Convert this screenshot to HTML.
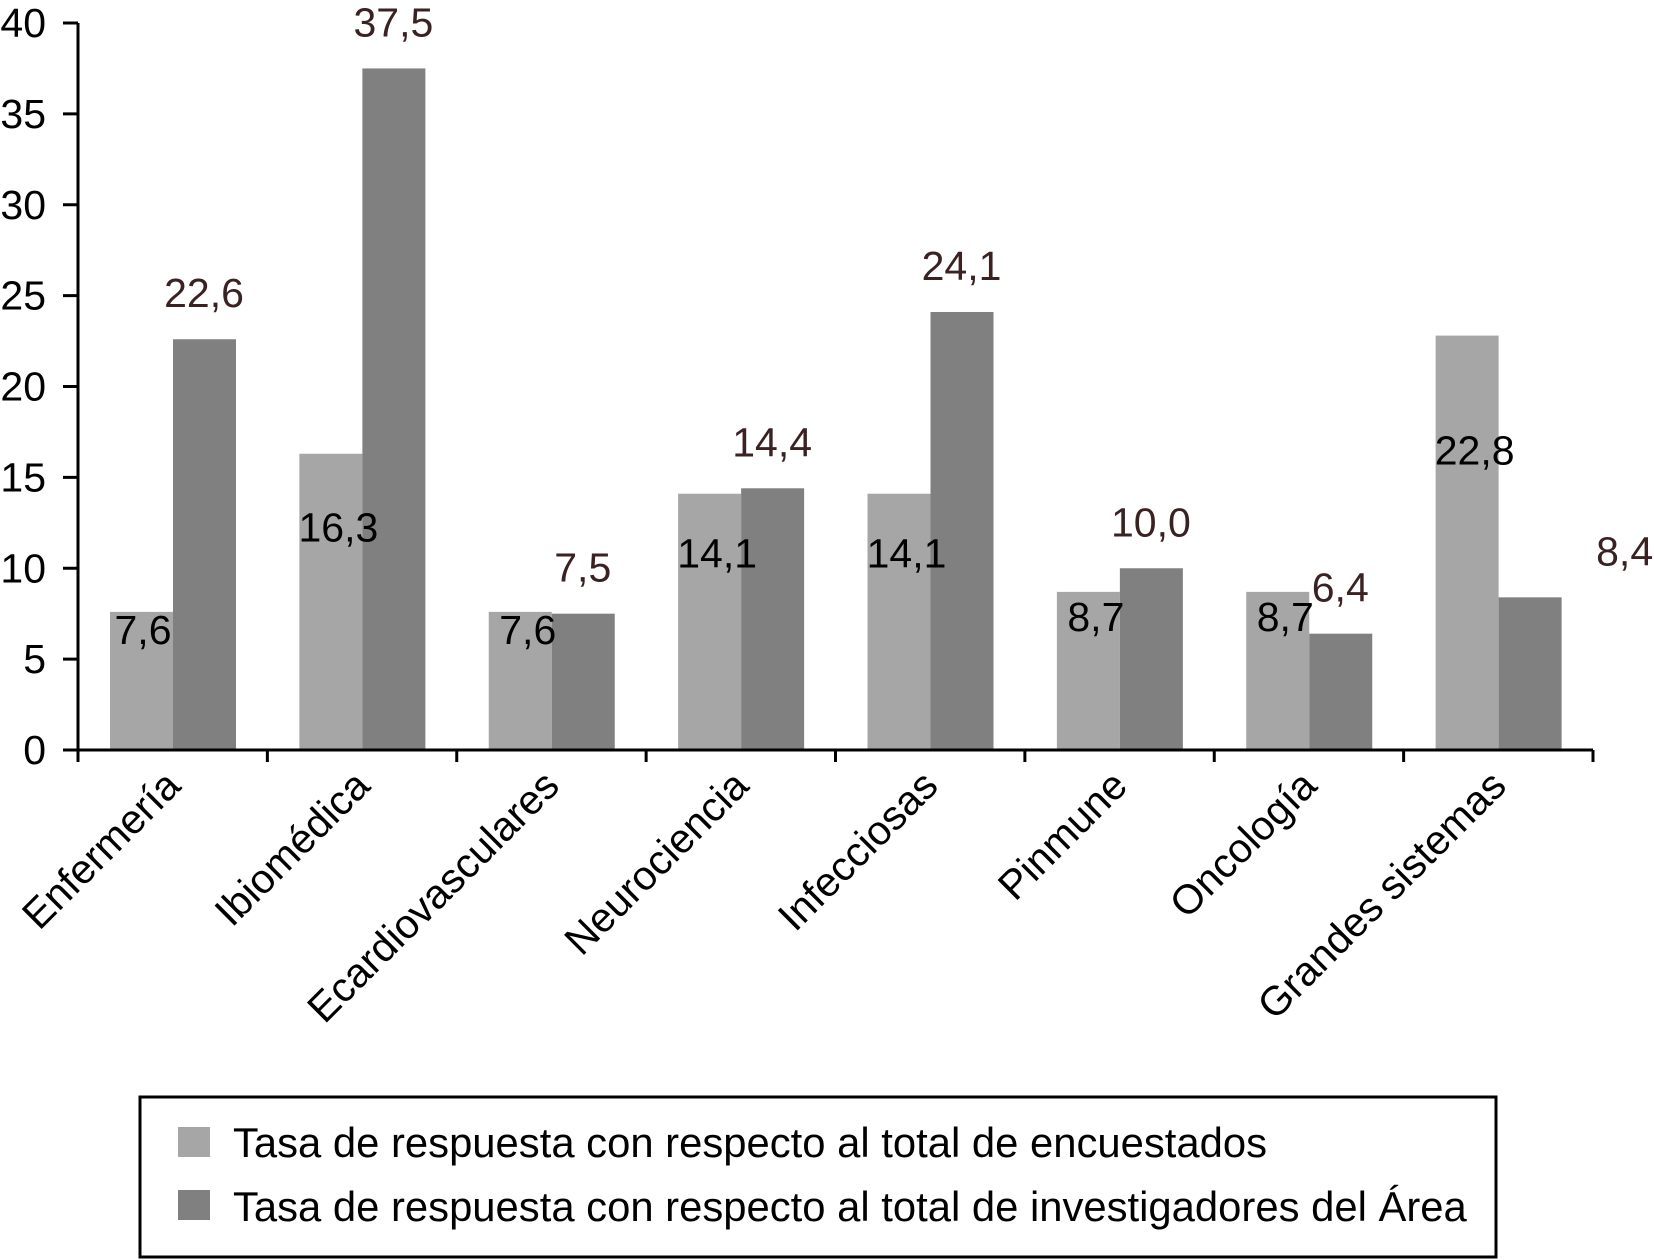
<!DOCTYPE html>
<html><head><meta charset="utf-8"><style>
html,body{margin:0;padding:0;background:#fff;}
svg{display:block;font-family:"Liberation Sans",Arial,sans-serif;}
</style></head><body>
<svg id="chart" width="1654" height="1260" viewBox="0 0 1654 1260" xmlns="http://www.w3.org/2000/svg">
<g id="plot"></g>
<g>
<rect x="140" y="1097" width="1356" height="160" fill="#fff" stroke="#000" stroke-width="3"/>
<rect x="178" y="1127" width="32" height="30" fill="#a6a6a6"/>
<text x="233" y="1157" font-size="41.8">Tasa de respuesta con respecto al total de encuestados</text>
<rect x="178" y="1190" width="32" height="30" fill="#808080"/>
<text x="233" y="1221" font-size="41.8">Tasa de respuesta con respecto al total de investigadores del Área</text>
</g>
</svg>
<script>
const categories = ["Enfermería","Ibiomédica","Ecardiovasculares","Neurociencia","Infecciosas","Pinmune","Oncología","Grandes sistemas"];
const encuestados = [7.6,16.3,7.6,14.1,14.1,8.7,8.7,22.8];
const investigadores = [22.6,37.5,7.5,14.4,24.1,10.0,6.4,8.4];
const yTicks = [0,5,10,15,20,25,30,35,40];

const NS="http://www.w3.org/2000/svg";
const g=document.getElementById('plot');
const X0=78, X1=1593, Y0=750, YT=23, YMAX=40;
const cw=(X1-X0)/categories.length;
const y=v=>Y0-(v/YMAX)*(Y0-YT);
const xc=i=>X0+i*cw;
function mk(t,a){const e=document.createElementNS(NS,t);for(const k in a)e.setAttribute(k,a[k]);g.appendChild(e);return e;}
const fmt=v=>v.toFixed(1).replace('.',',');
const FS=41;

categories.forEach((c,i)=>{
  const x=xc(i);
  const b1=mk('rect',{x:x+32,y:y(encuestados[i]),width:63,height:Y0-y(encuestados[i]),fill:'#a6a6a6'});
  
  
  const b2=mk('rect',{x:x+95,y:y(investigadores[i]),width:63,height:Y0-y(investigadores[i]),fill:'#808080'});
  
  
  const l1=mk('text',{x:x+63+(i===0?2:8),y:y(encuestados[i])+Math.max(45,(Y0-y(encuestados[i]))*0.35)-16,'font-size':FS,'text-anchor':'middle',fill:'#000'});
  l1.textContent=fmt(encuestados[i]);
  
  
  const dx=(i===categories.length-1)?95:0;
  const l2=mk('text',{x:x+126+dx,y:y(investigadores[i])-32,'font-size':FS,'text-anchor':'middle',fill:'#3b2222'});
  l2.textContent=fmt(investigadores[i]);
  
  
  const cx=x+cw/2+10, cy=Y0+38;
  const cl=mk('text',{x:cx,y:cy,'font-size':FS,'text-anchor':'end',transform:`rotate(-45 ${cx} ${cy})`});
  cl.textContent=c;
  
  
});
for(let i=0;i<=categories.length;i++){
  const t=mk('line',{x1:xc(i),x2:xc(i),y1:Y0,y2:Y0+12,stroke:'#000','stroke-width':3});
  
  
}
yTicks.forEach(v=>{
  const t=mk('line',{x1:X0-15,x2:X0,y1:y(v),y2:y(v),stroke:'#000','stroke-width':3});
  
  
  const l=mk('text',{x:46,y:y(v)+14,'font-size':FS,'text-anchor':'end'});
  l.textContent=v;
  
  
});
const ya=mk('line',{x1:X0,x2:X0,y1:YT,y2:Y0,stroke:'#000','stroke-width':3});


const xa=mk('line',{x1:X0,x2:X1,y1:Y0,y2:Y0,stroke:'#000','stroke-width':3});


</script>
</body></html>
